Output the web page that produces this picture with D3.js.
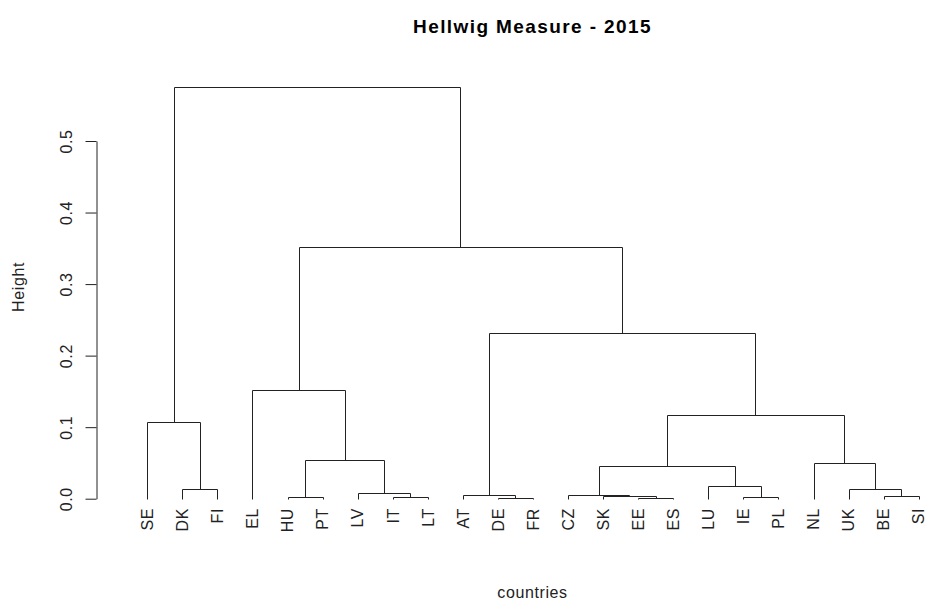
<!DOCTYPE html>
<html>
<head>
<meta charset="utf-8">
<script src="https://cdn.jsdelivr.net/npm/d3@7"></script>
<style>
  html, body { margin: 0; padding: 0; background: #fff; }
  svg { display: block; font-family: "Liberation Sans", Arial, sans-serif; }
</style>
</head>
<body>
<svg id="chart" width="927" height="603"></svg>
<script>
// ---- data (hclust-style merge table) ----
const countries = ["SE","DK","FI","EL","HU","PT","LV","IT","LT","AT","DE","FR",
                   "CZ","SK","EE","ES","LU","IE","PL","NL","UK","BE","SI"];
// negative = leaf (1-based), positive = earlier merge step (1-based)
const mergeLeft   = [-2, -1, -5, -8, -7, 3, -4, -11, -10, -15, -14, -13, -18, -17, 12, -22, -21, -20, 15, 9, 7, 2];
const mergeRight  = [-3,  1, -6, -9,  4, 5,  6, -12,   8, -16,  10,  11, -19,  13, 14, -23,  16,  17, 18, 19, 20, 21];
const mergeHeight = [0.014, 0.107, 0.0025, 0.0028, 0.0075, 0.0537, 0.152, 0.0014, 0.0048, 0.0014,
                     0.0034, 0.0048, 0.0028, 0.0178, 0.0457, 0.0042, 0.0131, 0.0495, 0.1166, 0.2316,
                     0.3522, 0.5759];
const yTicks = [0, 0.1, 0.2, 0.3, 0.4, 0.5];
const titleText = "Hellwig Measure - 2015";
const xLabel = "countries";
const yLabel = "Height";

// ---- scales ----
const svg = d3.select("#chart");
const x = d3.scaleLinear().domain([1, countries.length]).range([147.3, 918.7]);
const y = d3.scaleLinear().domain([0, 0.5]).range([498.7, 141]);
const px = v => Math.round(v) + 0.5;

// node positions
const nodes = []; // per merge step: {pos, h}
function child(ref) {
  if (ref < 0) return { pos: -ref, h: 0 };
  return nodes[ref - 1];
}
const segs = [];
mergeLeft.forEach((l, i) => {
  const a = child(l), b = child(mergeRight[i]);
  const h = mergeHeight[i];
  nodes.push({ pos: (a.pos + b.pos) / 2, h: h });
  segs.push({ a, b, h });
});

// ---- dendrogram ----
svg.append("g")
  .selectAll("path")
  .data(segs)
  .join("path")
  .attr("fill", "none")
  .attr("stroke", "#222")
  .attr("stroke-width", 1)
  .attr("d", d => `M${px(x(d.a.pos))},${px(y(d.a.h))}V${px(y(d.h))}H${px(x(d.b.pos))}V${px(y(d.b.h))}`);

// leaf labels
svg.append("g")
  .selectAll("text")
  .data(countries)
  .join("text")
  .attr("transform", (d, i) => `translate(${x(i + 1)},508) rotate(-90)`)
  .attr("dy", "0.36em")
  .attr("text-anchor", "end")
  .attr("font-size", 16)
  .attr("letter-spacing", 0.6)
  .attr("fill", "#222")
  .text(d => d);

// ---- y axis ----
const yAxis = d3.axisLeft(y).tickValues(yTicks).tickSize(11).tickSizeOuter(0)
  .tickFormat(d3.format(".1f"));
const ga = svg.append("g").attr("transform", "translate(96.5,0)").call(yAxis);
ga.select(".domain").attr("stroke", "#222");
ga.selectAll(".tick line").attr("stroke", "#222");
ga.selectAll(".tick text")
  .attr("transform", "rotate(-90)")
  .attr("x", 0)
  .attr("y", -25)
  .attr("dy", 0)
  .attr("text-anchor", "middle")
  .attr("font-size", 16)
  .attr("letter-spacing", 0.6)
  .attr("font-family", "Liberation Sans, Arial, sans-serif")
  .attr("fill", "#222");

// ---- titles ----
svg.append("text")
  .attr("x", 532.5).attr("y", 33)
  .attr("text-anchor", "middle")
  .attr("font-size", 19)
  .attr("font-weight", "bold")
  .attr("letter-spacing", 1.4)
  .attr("fill", "#000")
  .text(titleText);

svg.append("text")
  .attr("x", 532.5).attr("y", 598)
  .attr("text-anchor", "middle")
  .attr("font-size", 16)
  .attr("letter-spacing", 0.6)
  .attr("fill", "#222")
  .text(xLabel);

svg.append("text")
  .attr("transform", "translate(24,287) rotate(-90)")
  .attr("text-anchor", "middle")
  .attr("font-size", 16)
  .attr("letter-spacing", 0.6)
  .attr("fill", "#222")
  .text(yLabel);
</script>
</body>
</html>
